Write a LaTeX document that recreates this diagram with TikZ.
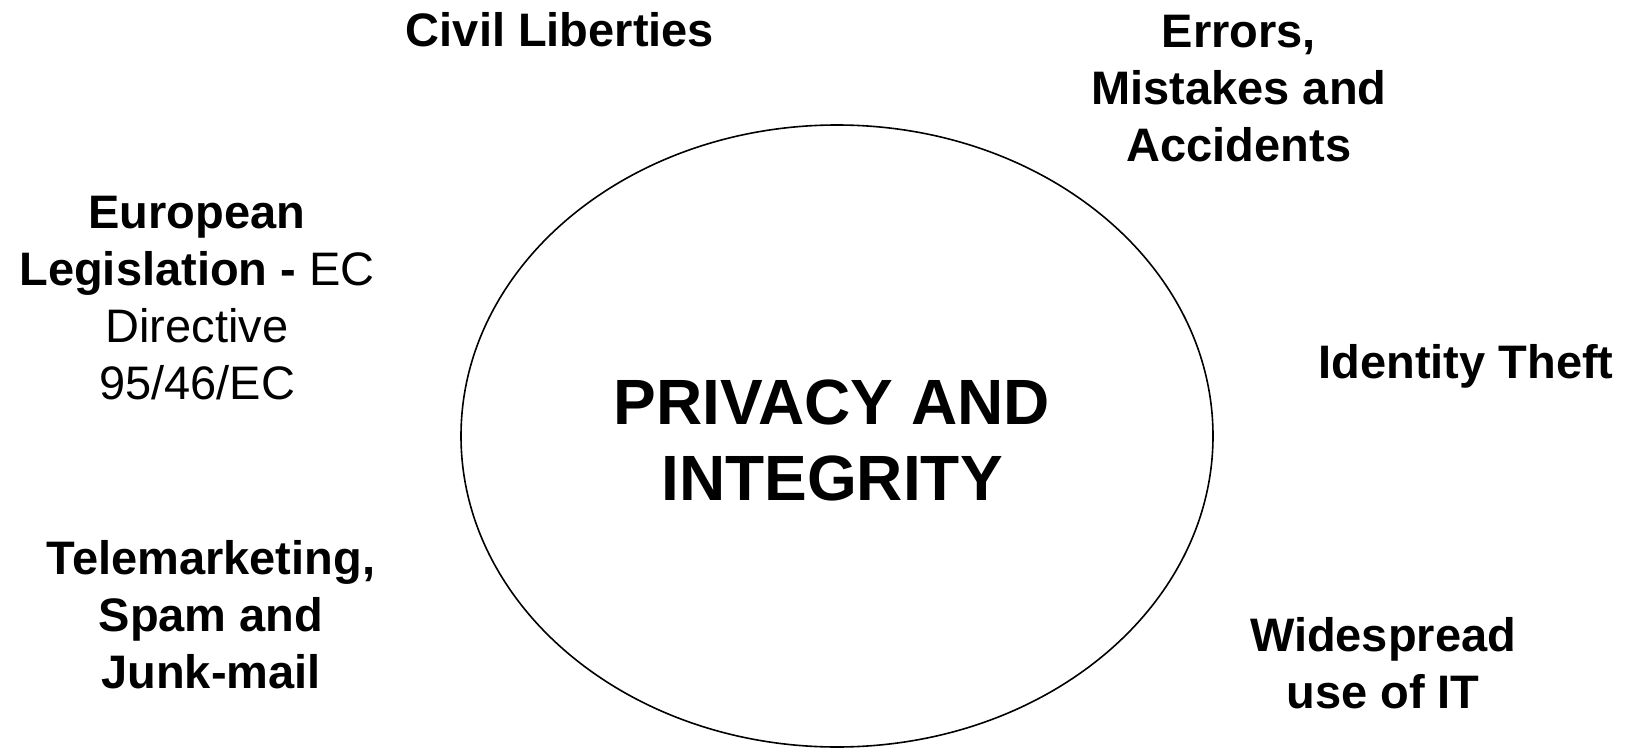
\documentclass[tikz,border=0pt]{standalone}
\usepackage{fontspec}
\setmainfont{Liberation Sans}
\begin{document}
\begin{tikzpicture}[x=1pt,y=-1pt,
  lbl/.style={inner sep=0pt, anchor=base, align=center,
    font=\bfseries\fontsize{47}{57}\selectfont},
  hub/.style={inner sep=0pt, anchor=base, align=center,
    font=\bfseries\fontsize{64}{76}\selectfont}]
\useasboundingbox[fill=white] (0,0) rectangle (1626,749);
% central ellipse
\draw[line width=1.6pt] (837,436) ellipse [x radius=376, y radius=311];
% nodes are anchored at the baseline of their last line
\node[hub] (core) at (832,500) {PRIVACY AND\\INTEGRITY};
% surrounding topics
\node[lbl] (civil) at (560,47) {Civil Liberties};
\node[lbl] (errors) at (1239,161) {Errors,\\Mistakes and\\Accidents};
\node[lbl] (europe) at (197,399) {European\\Legislation - \mdseries EC\\\mdseries Directive\\\mdseries 95/46/EC};
\node[lbl] (identity) at (1466,378) {Identity Theft};
\node[lbl] (tele) at (211,688) {Telemarketing,\\Spam and\\Junk-mail};
\node[lbl] (wide) at (1383,708) {Widespread\\use of IT};
\end{tikzpicture}
\end{document}
